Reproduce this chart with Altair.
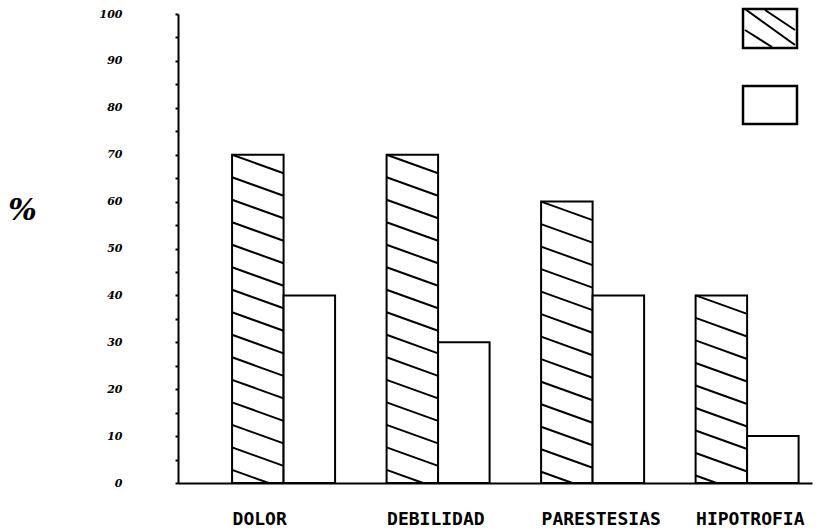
import altair as alt
import pandas as pd

# ---- data ----
categories = ["DOLOR", "DEBILIDAD", "PARESTESIAS", "HIPOTROFIA"]
hatched_values = [70, 70, 60, 40]
plain_values = [40, 30, 40, 10]
y_tick_values = list(range(0, 101, 5))

# ---- layout helpers (in x data units: one unit = one bar width) ----
GROUP_START = 1.05
GROUP_STEP = 3
BAR_W = 1
X_MAX = 12.31
HATCH_STEP = 4.8   # vertical spacing of hatch lines, in y units
HATCH_DROP = 3.95  # drop of a hatch line across one bar, in y units

rows = []
hatch = []
for i, cat in enumerate(categories):
    x0 = GROUP_START + GROUP_STEP * i
    rows.append(dict(cat=cat, series="hatched", x=x0, x2=x0 + BAR_W, y=hatched_values[i], y2=0))
    rows.append(dict(cat=cat, series="plain", x=x0 + BAR_W, x2=x0 + 2 * BAR_W, y=plain_values[i], y2=0))
    v = hatched_values[i]
    k = 0
    while True:
        yl = v - k * HATCH_STEP
        if yl <= 0.3:
            break
        yr = yl - HATCH_DROP
        xr = x0 + BAR_W
        if yr < 0:
            xr = x0 + BAR_W * (yl / HATCH_DROP)
            yr = 0
        hatch.append(dict(cat=cat, x=x0, x2=xr, y=yl, y2=yr))
        k += 1

bars_df = pd.DataFrame(rows)
hatch_df = pd.DataFrame(hatch)

label_positions = [GROUP_START + GROUP_STEP * i for i in range(len(categories))]
label_js = "[" + ",".join("'%s'" % c for c in categories) + "]"

x_enc = alt.X(
    "x:Q",
    title=None,
    scale=alt.Scale(domain=[0, X_MAX], nice=False, zero=False),
    axis=alt.Axis(
        values=label_positions,
        labelExpr=label_js + "[round((datum.value - %s) / %s)]" % (GROUP_START, GROUP_STEP),
        labelAlign="left",
        labelBaseline="top",
        labelPadding=27,
        labelFont="DejaVu Sans Mono",
        labelFontWeight="bold",
        labelFontSize=18,
        labelColor="black",
        ticks=False,
        grid=False,
        domainColor="black",
        domainWidth=2,
    ),
)
y_enc = alt.Y(
    "y:Q",
    title="%",
    scale=alt.Scale(domain=[0, 100], nice=False),
    axis=alt.Axis(
        values=y_tick_values,
        labelExpr="datum.value % 10 == 0 ? datum.label : ''",
        labelFont="DejaVu Serif",
        labelFontStyle="italic",
        labelFontWeight="bold",
        labelFontSize=11,
        labelColor="black",
        labelPadding=53,
        labelBaseline="middle",
        tickSize=3,
        tickColor="black",
        tickWidth=2,
        grid=False,
        domainColor="black",
        domainWidth=2,
        titleAngle=0,
        titleX=-156,
        titleY=196,
        titleAlign="center",
        titleBaseline="middle",
        titleFont="DejaVu Serif",
        titleFontStyle="italic",
        titleFontWeight="bold",
        titleFontSize=30,
        titleColor="black",
    ),
)

bars = alt.Chart(bars_df).mark_rect(fill="white", stroke="black", strokeWidth=2).encode(
    x=x_enc, x2="x2", y=y_enc, y2="y2"
)
lines = alt.Chart(hatch_df).mark_rule(color="black", strokeWidth=2).encode(
    x=x_enc, x2="x2", y=y_enc, y2="y2"
)

one = pd.DataFrame({"k": [0]})
leg_hatched = alt.Chart(one).mark_rect(fill="white", stroke="black", strokeWidth=2.5).encode(
    x=alt.value(565), x2=alt.value(619), y=alt.value(-5), y2=alt.value(34)
)
leg_plain = alt.Chart(one).mark_rect(fill="white", stroke="black", strokeWidth=2.5).encode(
    x=alt.value(565), x2=alt.value(619), y=alt.value(72), y2=alt.value(110)
)
leg_l1 = alt.Chart(one).mark_rule(color="black", strokeWidth=2).encode(
    x=alt.value(567), x2=alt.value(617), y=alt.value(-5), y2=alt.value(31)
)
leg_l2 = alt.Chart(one).mark_rule(color="black", strokeWidth=2).encode(
    x=alt.value(587), x2=alt.value(617), y=alt.value(-4), y2=alt.value(16)
)
leg_l3 = alt.Chart(one).mark_rule(color="black", strokeWidth=2).encode(
    x=alt.value(567), x2=alt.value(594), y=alt.value(16), y2=alt.value(33)
)

chart = (
    alt.layer(bars, lines, leg_hatched, leg_plain, leg_l1, leg_l2, leg_l3)
    .properties(
        width=634,
        height=469,
        autosize=alt.AutoSizeParams(type="none"),
        padding={"left": 178, "top": 14, "right": 25, "bottom": 49},
        background="white",
    )
    .configure_view(stroke=None)
)

chart.save("out.html", embed_options={"renderer": "svg", "actions": False})
